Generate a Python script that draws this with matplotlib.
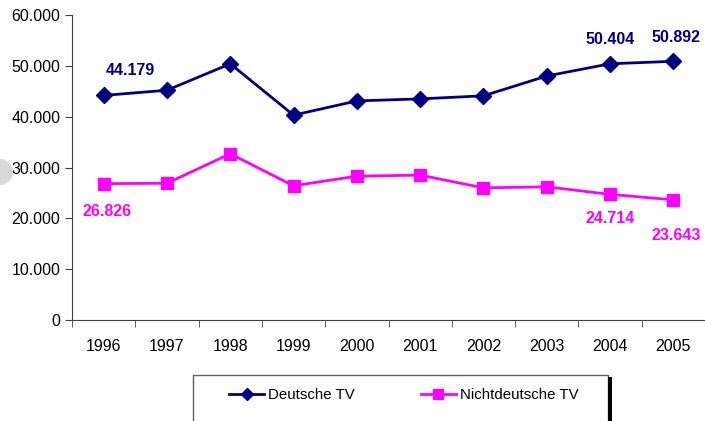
import numpy as np
import matplotlib.pyplot as plt
from matplotlib.patches import Rectangle, Ellipse
from matplotlib.ticker import FuncFormatter

plt.rcParams['font.family'] = ['Liberation Sans', 'DejaVu Sans']

years = ['1996', '1997', '1998', '1999', '2000', '2001', '2002', '2003', '2004', '2005']
deutsche = [44179, 45200, 50400, 40300, 43100, 43500, 44100, 48000, 50404, 50892]
nichtdeutsche = [26826, 26900, 32700, 26400, 28300, 28500, 26000, 26200, 24714, 23643]

navy = '#000080'
magenta = '#FF00FF'

fig = plt.figure(figsize=(7.05, 4.21), dpi=100)
ax = fig.add_axes([72 / 705, 1 - 320 / 421, 633 / 705, 305 / 421])

x = np.arange(len(years))
ax.plot(x, deutsche, color=navy, lw=2, marker='D', ms=8, label='Deutsche TV')
ax.plot(x, nichtdeutsche, color=magenta, lw=2, marker='s', ms=9, label='Nichtdeutsche TV')

ax.set_xlim(-0.5, len(years) - 0.5)
ax.set_ylim(0, 60000)
ax.set_yticks(np.arange(0, 60001, 10000))
ax.yaxis.set_major_formatter(FuncFormatter(lambda v, p: f'{int(v):,}'.replace(',', '.')))
ax.set_xticks(x)
ax.set_xticklabels(years)
ax.set_xticks(np.arange(-0.5, len(years), 1), minor=True)
ax.tick_params(axis='x', which='major', length=0, pad=14, labelsize=11.5)
ax.tick_params(axis='x', which='minor', length=5, color='#404040')
ax.tick_params(axis='y', length=5, color='#404040', labelsize=11.5)
for s in ['top', 'right']:
    ax.spines[s].set_visible(False)
for s in ['left', 'bottom']:
    ax.spines[s].set_color('#404040')


def fmt(v):
    return f'{v:,}'.replace(',', '.')


# data labels (offsets in pixels)
lbl = dict(fontsize=11.5, fontweight='bold', ha='center', va='center',
           textcoords='offset pixels')
ax.annotate(fmt(deutsche[0]), (0, deutsche[0]), xytext=(27, 25), color=navy, **lbl)
ax.annotate(fmt(deutsche[8]), (8, deutsche[8]), xytext=(0, 24), color=navy, **lbl)
ax.annotate(fmt(deutsche[9]), (9, deutsche[9]), xytext=(3, 24), color=navy, **lbl)
ax.annotate(fmt(nichtdeutsche[0]), (0, nichtdeutsche[0]), xytext=(3, -28), color=magenta, **lbl)
ax.annotate(fmt(nichtdeutsche[8]), (8, nichtdeutsche[8]), xytext=(0, -24), color=magenta, **lbl)
ax.annotate(fmt(nichtdeutsche[9]), (9, nichtdeutsche[9]), xytext=(3, -36), color=magenta, **lbl)

# legend box with shadow
fig.patches.append(Rectangle((193 / 705, -0.05), 415 / 705, 0.05 + 46 / 421,
                             transform=fig.transFigure, facecolor='white',
                             edgecolor='#606060', lw=1, zorder=1))
fig.patches.append(Rectangle((608 / 705, -0.05), 4 / 705, 0.05 + 44 / 421,
                             transform=fig.transFigure, facecolor='black',
                             edgecolor='none', zorder=1))
leg = fig.legend(loc='center', bbox_to_anchor=(404 / 705, 1 - 395 / 421), ncol=2,
                 frameon=False, fontsize=10.8, columnspacing=4.4, handlelength=2.3,
                 handletextpad=0.3, markerscale=0.8)

# gray circle at left edge
fig.patches.append(Ellipse((0, 1 - 172 / 421), 26 / 705, 26 / 421,
                           transform=fig.transFigure, facecolor='#d9d9d9',
                           edgecolor='none'))

fig.savefig('out.png', dpi=100)
